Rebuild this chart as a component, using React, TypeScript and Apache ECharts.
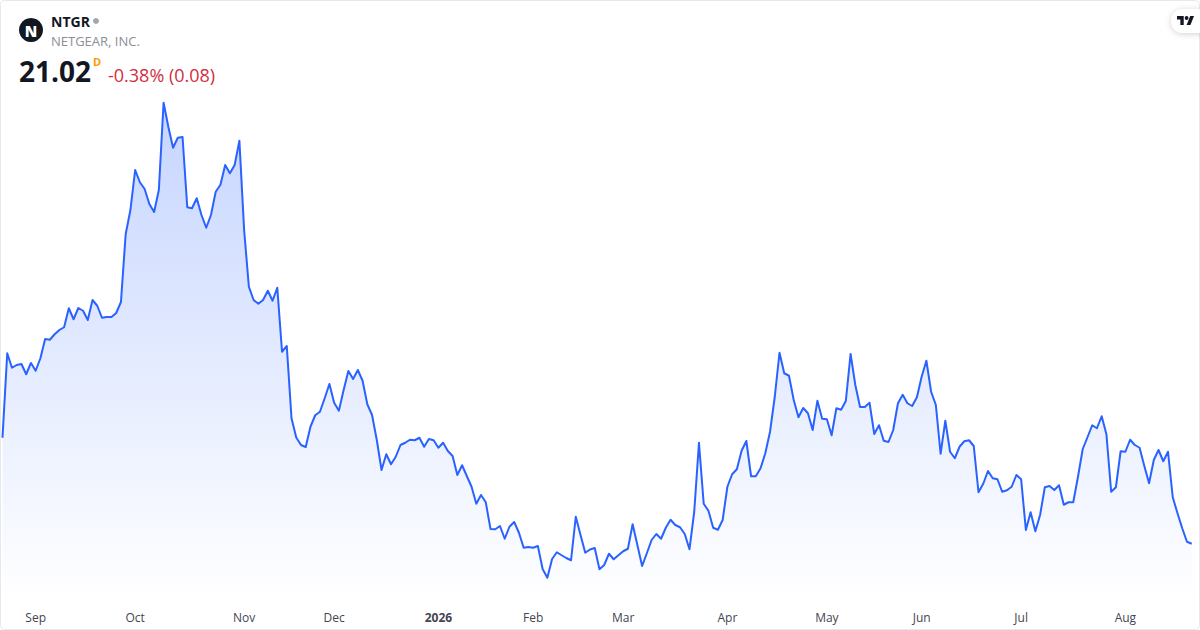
import React, { useEffect, useRef } from "react";
import * as echarts from "echarts";

const prices = [
  25.26, 28.64, 28.06, 28.17, 28.21, 27.8, 28.25, 27.94, 28.44, 29.21, 29.18, 29.4, 29.57, 29.68, 30.44, 30.0,
  30.45, 30.34, 29.97, 30.77, 30.54, 30.06, 30.09, 30.09, 30.25, 30.69, 33.41, 34.37, 35.97, 35.48, 35.21, 34.61,
  34.29, 35.17, 38.66, 37.7, 36.86, 37.26, 37.29, 34.48, 34.44, 34.84, 34.17, 33.66, 34.17, 35.1, 35.38, 36.17,
  35.84, 36.17, 37.14, 33.57, 31.3, 30.77, 30.62, 30.77, 31.14, 30.74, 31.26, 28.7, 28.93, 26.04, 25.27, 24.97,
  24.89, 25.7, 26.16, 26.3, 26.84, 27.41, 26.66, 26.34, 27.17, 27.93, 27.61, 27.97, 27.54, 26.6, 26.17, 25.17,
  23.97, 24.6, 24.2, 24.5, 24.97, 25.06, 25.18, 25.16, 25.26, 24.9, 25.21, 25.16, 24.86, 25.06, 24.73, 24.53,
  23.77, 24.16, 23.73, 23.3, 22.62, 22.97, 22.68, 21.61, 21.6, 21.73, 21.22, 21.7, 21.89, 21.46, 20.86, 20.89,
  20.86, 20.93, 20.01, 19.66, 20.41, 20.68, 20.56, 20.45, 20.36, 22.1, 21.37, 20.66, 20.79, 20.85, 20.0, 20.17,
  20.62, 20.4, 20.56, 20.72, 20.82, 21.8, 20.97, 20.13, 20.64, 21.17, 21.41, 21.22, 21.66, 21.98, 21.77, 21.68,
  21.41, 20.8, 22.3, 25.06, 22.62, 22.34, 21.66, 21.58, 21.97, 23.3, 23.8, 24.0, 24.74, 25.13, 23.72, 23.72,
  24.04, 24.64, 25.5, 26.9, 28.66, 27.84, 27.74, 26.77, 26.08, 26.45, 26.24, 25.57, 26.74, 26.02, 26.0, 25.36,
  26.44, 26.38, 26.73, 28.61, 27.37, 26.49, 26.49, 26.66, 25.41, 25.76, 25.14, 25.09, 25.57, 26.64, 26.98, 26.64,
  26.53, 26.88, 27.7, 28.34, 27.1, 26.57, 24.62, 25.94, 24.7, 24.44, 24.9, 25.12, 25.16, 24.93, 23.08, 23.42,
  23.93, 23.64, 23.6, 23.1, 23.16, 23.3, 23.77, 23.6, 21.57, 22.28, 21.52, 22.17, 23.28, 23.33, 23.17, 23.36,
  22.58, 22.68, 22.68, 23.7, 24.81, 25.28, 25.76, 25.64, 26.12, 25.4, 23.1, 23.28, 24.72, 24.7, 25.18, 24.97,
  24.86, 24.13, 23.44, 24.37, 24.77, 24.32, 24.7, 22.88, 22.24, 21.64, 21.1, 21.02,
];

const tickLabels = ["Sep", "Oct", "Nov", "Dec", "2026", "Feb", "Mar", "Apr", "May", "Jun", "Jul", "Aug"];
const tickIndexes = [7, 28, 51, 70, 92, 112, 131, 153, 174, 194, 215, 237];

const FONT = '"Open Sans", sans-serif';
const TV_LOGO = "M14 22H7V11H0V4h14v18zM28 22h-8l7.5-18h8L28 22zM24 8a4 4 0 1 1-8 0a4 4 0 0 1 8 0z";

export default function App() {
  const ref = useRef<HTMLDivElement>(null);

  useEffect(() => {
    if (!ref.current) return;
    echarts.graphic.registerShape("tvlogo", echarts.graphic.extendPath(TV_LOGO, {}) as any);
    const chart = echarts.init(ref.current, undefined, { renderer: "svg" });
    const categories = prices.map((_, i) => {
      const k = tickIndexes.indexOf(i);
      return k >= 0 ? tickLabels[k] : String(i);
    });
    chart.setOption({
      animation: false,
      backgroundColor: "#ffffff",
      grid: { left: 2.5, right: 8.3, top: 0, bottom: 30, containLabel: false },
      tooltip: { show: false },
      xAxis: {
        type: "category",
        boundaryGap: false,
        data: categories,
        axisLine: { show: false },
        axisTick: { show: false },
        splitLine: { show: false },
        axisLabel: {
          interval: (i: number) => tickIndexes.includes(i),
          hideOverlap: false,
          margin: 11,
          fontFamily: FONT,
          fontSize: 12,
          color: "#434651",
          formatter: (v: string) => (v === "2026" ? "{b|2026}" : v),
          rich: { b: { fontFamily: FONT, fontSize: 12, fontWeight: 700, color: "#434651" } },
        },
      },
      yAxis: {
        type: "value",
        min: 18.77,
        max: 42.77,
        show: false,
        splitLine: { show: false },
      },
      series: [
        {
          type: "line",
          data: prices,
          showSymbol: false,
          symbol: "none",
          smooth: false,
          silent: true,
          lineStyle: { color: "#2962ff", width: 2, join: "round" },
          areaStyle: {
            origin: "start",
            color: new echarts.graphic.LinearGradient(0, 0, 0, 1, [
              { offset: 0, color: "rgba(41,98,255,0.38)" },
              { offset: 1, color: "rgba(41,98,255,0)" },
            ]),
          },
        },
      ],
      graphic: [
        {
          type: "rect",
          silent: true,
          shape: { x: 0.5, y: 0.5, width: 1199, height: 629, r: 4 },
          style: { fill: "none", stroke: "#e6e8ee", lineWidth: 1 },
          z: 50,
        },
        { type: "circle", shape: { cx: 31, cy: 30, r: 12 }, style: { fill: "#131722" }, z: 60 },
        {
          type: "text", x: 31, y: 30.5,
          style: { text: "N", fill: "#ffffff", font: `800 15px ${FONT}`, align: "center", verticalAlign: "middle" },
          z: 61,
        },
        {
          type: "text", x: 51, y: 21,
          style: { text: "NTGR", fill: "#131722", font: `700 14px ${FONT}`, align: "left", verticalAlign: "middle" },
          z: 60,
        },
        { type: "circle", shape: { cx: 96, cy: 21, r: 3 }, style: { fill: "#a3a6af" }, z: 60 },
        {
          type: "text", x: 51, y: 41,
          style: { text: "NETGEAR, INC.", fill: "#8b8e96", font: `400 13px ${FONT}`, align: "left", verticalAlign: "middle" },
          z: 60,
        },
        {
          type: "text", x: 19, y: 71,
          style: { text: "21.02", fill: "#131722", font: `700 28px ${FONT}`, align: "left", verticalAlign: "middle" },
          z: 60,
        },
        {
          type: "text", x: 93, y: 61,
          style: { text: "D", fill: "#ff9800", font: `700 11px ${FONT}`, align: "left", verticalAlign: "middle" },
          z: 60,
        },
        {
          type: "text", x: 108, y: 75,
          style: { text: "-0.38% (0.08)", fill: "#d12f42", font: `400 18px ${FONT}`, align: "left", verticalAlign: "middle" },
          z: 60,
        },
        {
          type: "rect",
          shape: { x: 1171, y: 9, width: 40, height: 24, r: 12 },
          style: { fill: "#ffffff", shadowBlur: 6, shadowColor: "rgba(0,0,0,0.18)", shadowOffsetY: 1 },
          z: 60,
        },
        {
          type: "tvlogo", x: 1177, y: 14, scaleX: 0.48, scaleY: 0.5,
          style: { fill: "#131722" },
          z: 61,
        },
      ],
    });
    return () => chart.dispose();
  }, []);

  return <div ref={ref} style={{ position: "absolute", left: 0, top: 0, width: 1200, height: 630 }} />;
}
